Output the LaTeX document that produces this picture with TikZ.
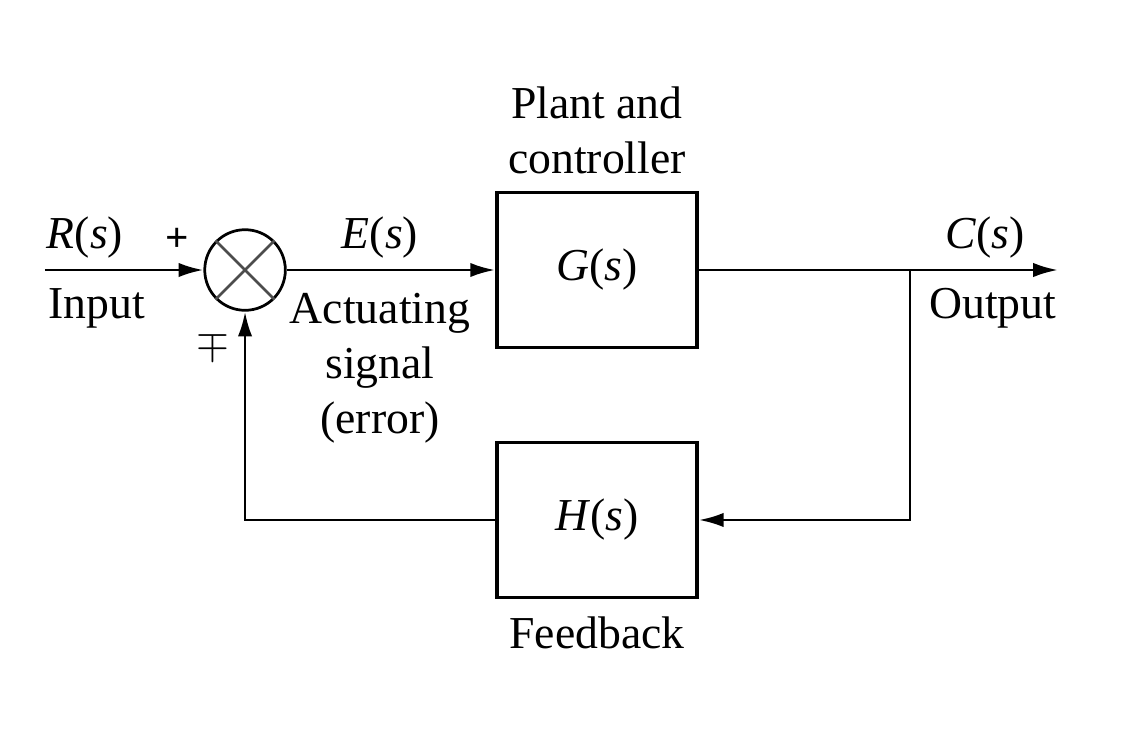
\documentclass[tikz,border=0pt]{standalone}
\usepackage{fontspec}
\setmainfont{Liberation Serif}
\usetikzlibrary{arrows,arrows.meta,shapes}
\usetikzlibrary{positioning}
\usetikzlibrary{calc}
\begin{document}
\begin{tikzpicture}
  [block/.style={rectangle,draw=black,thick,minimum width=1.54cm,minimum height=1.19cm},
  sumdot/.style={circle,draw=black,semithick,minimum size=0.62cm,inner sep=0pt},
  sig/.style={-{Latex[length=1.9mm,width=1.1mm]},black,semithick},
  lbl/.style={inner sep=0pt,align=center}]
  \useasboundingbox (0,0) rectangle (8.708,5.662);
  
  \node[sumdot] (sum) at (1.885,3.585) {};
  \node[block] (plant) at (4.592,3.585) {\textit{G}(\textit{s})};
  \node[block] (feedback) at (4.592,1.662) {\textit{H}(\textit{s})};
  
  \coordinate (input) at (0.346,3.585);
  \coordinate (branch) at (7.0,3.585);
  \coordinate (output) at (8.138,3.585);
  
  \node[lbl] (rlabel) at (0.654,3.838) {\textit{R}(\textit{s})};
  \node[lbl] (inlabel) at (0.746,3.292) {Input};
  \node[lbl] (plus) at (1.362,3.815) {\small\textbf{+}};
  \node[lbl] (minus) at (1.638,3.008) {\small$\mp$};
  \node[lbl] (elabel) at (2.923,3.838) {\textit{E}(\textit{s})};
  \node[lbl] (errlabel) at (2.923,2.83) {Actuating\\signal\\(error)};
  \node[lbl] (plantlabel) at (4.592,4.658) {Plant and\\controller};
  \node[lbl] (clabel) at (7.577,3.838) {\textit{C}(\textit{s})};
  \node[lbl] (outlabel) at (7.638,3.292) {Output};
  \node[lbl] (fblabel) at (4.592,0.792) {Feedback};
  
  \draw [black!70,semithick] (sum.north west) -- (sum.south east);
  \draw [black!70,semithick] (sum.north east) -- (sum.south west);
  
  \draw [sig] (input) -- (sum);
  \draw [sig] (sum) -- (plant);
  \draw [sig] (plant) -- (output);
  \draw [sig] (branch) |- (feedback);
  \draw [sig] (feedback) -| (sum);
  
\end{tikzpicture}
\end{document}
